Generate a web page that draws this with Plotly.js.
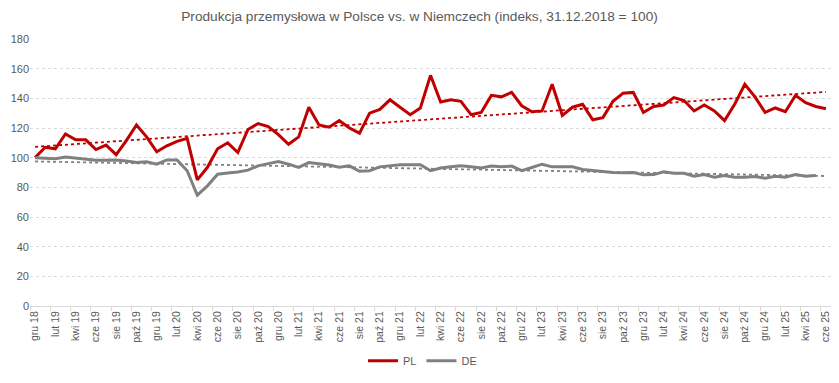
<!DOCTYPE html>
<html>
<head>
<meta charset="utf-8">
<script src="https://cdn.plot.ly/plotly-3.0.1.min.js"></script>
<style>html,body{margin:0;padding:0;background:#fff;}#chart{width:839px;height:383px;}</style>
</head>
<body>
<div id="chart"></div>
<script>
const categories = [
  "gru 18",
  "sty 19","lut 19","mar 19","kwi 19","maj 19","cze 19","lip 19","sie 19","wrz 19","paź 19","lis 19","gru 19",
  "sty 20","lut 20","mar 20","kwi 20","maj 20","cze 20","lip 20","sie 20","wrz 20","paź 20","lis 20","gru 20",
  "sty 21","lut 21","mar 21","kwi 21","maj 21","cze 21","lip 21","sie 21","wrz 21","paź 21","lis 21","gru 21",
  "sty 22","lut 22","mar 22","kwi 22","maj 22","cze 22","lip 22","sie 22","wrz 22","paź 22","lis 22","gru 22",
  "sty 23","lut 23","mar 23","kwi 23","maj 23","cze 23","lip 23","sie 23","wrz 23","paź 23","lis 23","gru 23",
  "sty 24","lut 24","mar 24","kwi 24","maj 24","cze 24","lip 24","sie 24","wrz 24","paź 24","lis 24","gru 24",
  "sty 25","lut 25","mar 25","kwi 25","maj 25","cze 25"
];

const plValues = [
  100, 107, 106, 116, 112, 112, 105.5, 108.5, 102, 111.5, 122, 114, 104,
  108, 111, 113, 85, 93.5, 106, 110, 103.5, 119, 123, 121, 115.5,
  109, 114, 134, 122, 120.5, 125, 120, 116.5, 130, 132.5, 139, 134,
  129, 133.5, 155.5, 137.5, 139, 138, 129, 130.5, 142, 141, 144, 135,
  131, 131.5, 149.5, 128.5, 134, 136, 125.5, 127, 138, 143.5, 144, 130.5,
  134.5, 135.5, 140.5, 138.5, 131.5, 135.5, 131.5, 125, 136, 149.5, 141, 130.5,
  133.5, 131, 142, 137, 134.5, 133
];

const deValues = [
  100, 99.6, 99.3, 100.4, 99.6, 99.3, 98.2, 98.2, 98.5, 97.8, 96.8, 97.2, 95.6,
  98.5, 98.5, 91.2, 74.7, 81, 88.8, 89.6, 90.3, 91.6, 94.5, 96, 97.4,
  95.6, 93.5, 96.7, 96, 95, 93.5, 94.5, 90.8, 91.2, 93.8, 94.5, 95.2,
  95.2, 95.2, 91.2, 93, 93.8, 94.5, 93.8, 93, 94.3, 93.8, 94.3, 91.3,
  93.4, 95.6, 93.8, 93.8, 93.8, 92, 91.2, 90.5, 90, 89.8, 90, 88.4,
  88.6, 90.5, 89.5, 89.5, 87.5, 88.6, 86.8, 87.9, 86.8, 86.8, 87.3, 86.2,
  87.5, 86.8, 88.6, 87.5, 87.9
];

const seriesNames = ["PL", "DE"];
const chartTitle = "Produkcja przemysłowa w Polsce vs. w Niemczech (indeks, 31.12.2018 = 100)";
const yTicks = [0, 20, 40, 60, 80, 100, 120, 140, 160, 180];

function linearTrend(vals, n) {
  const m = vals.length;
  let sx = 0, sy = 0, sxx = 0, sxy = 0;
  for (let i = 0; i < m; i++) { sx += i; sy += vals[i]; sxx += i * i; sxy += i * vals[i]; }
  const b = (m * sxy - sx * sy) / (m * sxx - sx * sx);
  const a = (sy - b * sx) / m;
  const out = [];
  for (let i = 0; i < n; i++) out.push(a + b * i);
  return out;
}

const RED = "#C00000", GREY = "#808080", TXT = "#595959";

const traces = [
  { x: categories, y: linearTrend(plValues, categories.length), type: "scatter", mode: "lines",
    line: { color: RED, width: 1.8, dash: "dot" }, showlegend: false, hoverinfo: "skip" },
  { x: categories, y: linearTrend(deValues, categories.length), type: "scatter", mode: "lines",
    line: { color: GREY, width: 1.8, dash: "dot" }, showlegend: false, hoverinfo: "skip" },
  { x: categories.slice(0, plValues.length), y: plValues, name: seriesNames[0], type: "scatter", mode: "lines",
    line: { color: RED, width: 3 } },
  { x: categories.slice(0, deValues.length), y: deValues, name: seriesNames[1], type: "scatter", mode: "lines",
    line: { color: GREY, width: 3 } }
];

const layout = {
  width: 839, height: 383,
  margin: { l: 30, r: 8, t: 39, b: 71 },
  paper_bgcolor: "#fff", plot_bgcolor: "#fff",
  font: { family: "Liberation Sans, Arial, sans-serif", color: TXT, size: 11 },
  title: { text: chartTitle, font: { size: 13.7, color: TXT }, x: 0.5, xref: "container", xanchor: "center", y: 0.958, yref: "container", yanchor: "middle" },
  xaxis: {
    type: "category", categoryorder: "array", categoryarray: categories,
    range: [-0.5, categories.length - 0.5],
    tickmode: "linear", tick0: 0, dtick: 2, tickson: "boundaries",
    tickangle: -90, ticks: "outside", ticklen: 4, tickcolor: "#d9d9d9",
    tickfont: { size: 10.5, color: TXT },
    showgrid: false, showline: true, linecolor: "#d9d9d9", linewidth: 1, zeroline: false, fixedrange: true
  },
  yaxis: {
    range: [0, 180], tickvals: yTicks, ticktext: yTicks.map(String),
    showgrid: true, gridcolor: "#d9d9d9", griddash: "dot", gridwidth: 1,
    zeroline: false, showline: false, ticks: "", tickfont: { size: 11, color: TXT }, fixedrange: true
  },
  legend: { orientation: "h", x: 0.49, xanchor: "center", y: -0.205, yanchor: "middle",
    font: { size: 11, color: TXT }, itemwidth: 30, traceorder: "normal" },
  showlegend: true
};

Plotly.newPlot("chart", traces, layout, { displayModeBar: false, staticPlot: true });
</script>
</body>
</html>
